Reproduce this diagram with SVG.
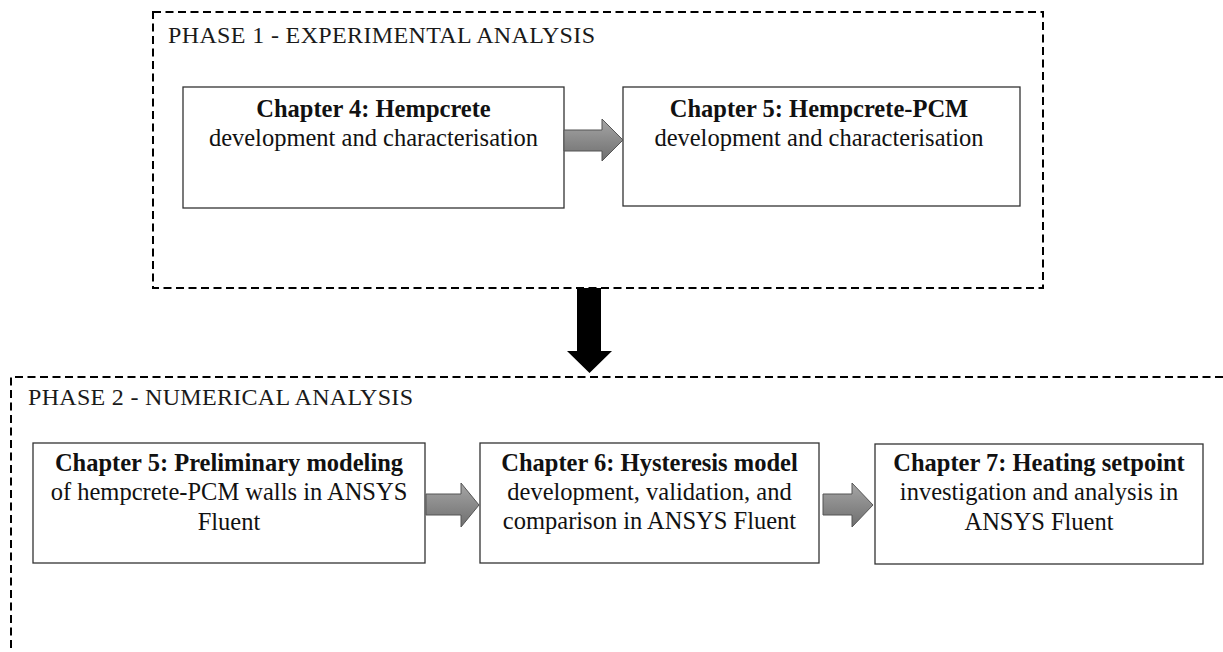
<svg xmlns="http://www.w3.org/2000/svg" width="1223" height="652" viewBox="0 0 1223 652">
<defs>
<linearGradient id="g" x1="0" y1="0" x2="0" y2="1">
<stop offset="0" stop-color="#a6a6a6"/>
<stop offset="0.5" stop-color="#8a8a8a"/>
<stop offset="1" stop-color="#6f6f6f"/>
</linearGradient>
<style>
.phase{fill:none;stroke:#000;stroke-width:2;stroke-dasharray:8 4.5}
.ptitle{font-family:"Liberation Serif","Times New Roman",serif;font-size:24px;fill:#1a1a1a}
.box{fill:#fff;stroke:#333;stroke-width:1.3}
.t{font-family:"Liberation Serif","Times New Roman",serif;font-size:24.5px;fill:#111;text-anchor:middle}
.b{font-weight:bold}
.garrow{fill:url(#g);stroke:#555;stroke-width:1}
</style>
</defs>
<g id="phase1">
<rect class="phase" x="153" y="12" width="890" height="276"/>
<text class="ptitle" x="168" y="43" textLength="427" lengthAdjust="spacing">PHASE 1 - EXPERIMENTAL ANALYSIS</text>
</g>
<g id="phase2">
<path class="phase" d="M1223,377 H11 V652"/>
<text class="ptitle" x="28" y="405" textLength="385" lengthAdjust="spacing">PHASE 2 - NUMERICAL ANALYSIS</text>
</g>
<g id="ch4">
<rect class="box" x="183" y="87" width="381" height="121"/>
<text class="t b" x="373.5" y="117">Chapter 4: Hempcrete</text>
<text class="t" x="373.5" y="146">development and characterisation</text>
</g>
<g id="ch5a">
<rect class="box" x="623" y="87" width="397" height="119"/>
<text class="t b" x="819" y="117">Chapter 5: Hempcrete-PCM</text>
<text class="t" x="819" y="146">development and characterisation</text>
</g>
<g id="ch5b">
<rect class="box" x="33" y="443" width="392" height="120"/>
<text class="t b" x="229" y="471">Chapter 5: Preliminary modeling</text>
<text class="t" x="229" y="500">of hempcrete-PCM walls in ANSYS</text>
<text class="t" x="229" y="530">Fluent</text>
</g>
<g id="ch6">
<rect class="box" x="480" y="443" width="339" height="120"/>
<text class="t b" x="649.5" y="471">Chapter 6: Hysteresis model</text>
<text class="t" x="649.5" y="500">development, validation, and</text>
<text class="t" x="649.5" y="529">comparison in ANSYS Fluent</text>
</g>
<g id="ch7">
<rect class="box" x="875" y="444" width="328" height="120"/>
<text class="t b" x="1039" y="471">Chapter 7: Heating setpoint</text>
<text class="t" x="1039" y="500">investigation and analysis in</text>
<text class="t" x="1039" y="530">ANSYS Fluent</text>
</g>
<g id="connectors">
<path class="garrow" d="M564,130 H602 V119 L623,140 L602,161 V151 H564 Z"/>
<path class="garrow" d="M426,494 H461 V483 L479,505 L461,527 V515 H426 Z"/>
<path class="garrow" d="M823,494 H852 V483 L873,505 L852,527 V515 H823 Z"/>
<path fill="#000" d="M577,288 H601 V351 H612 L589.5,373 L567,351 H577 Z"/>
</g>
</svg>
